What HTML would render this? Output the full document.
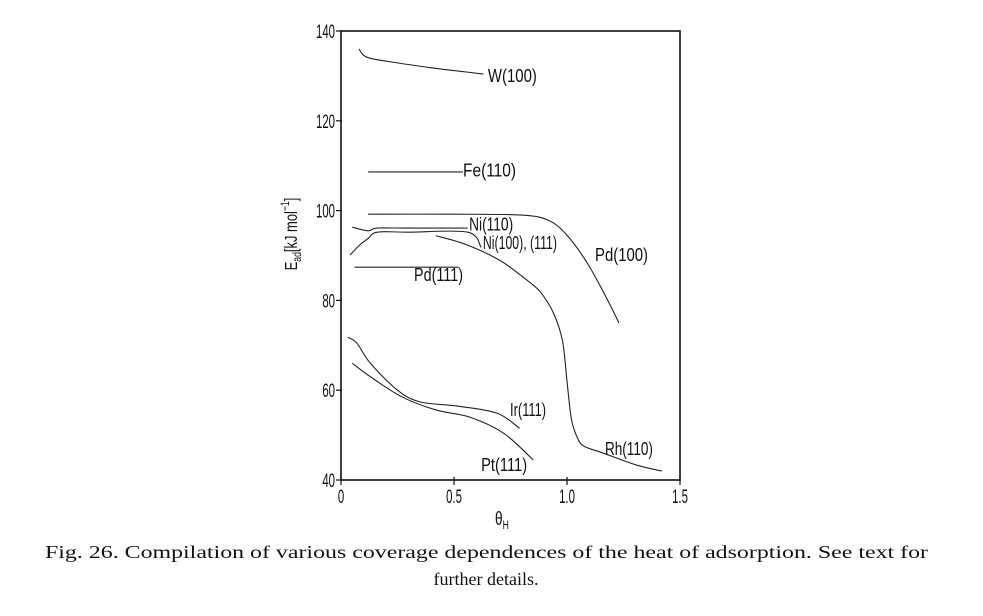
<!DOCTYPE html>
<html><head><meta charset="utf-8"><style>
html,body{margin:0;padding:0;background:#fff;}
svg{display:block;}
text{fill:#111;}
</style></head><body>
<svg id="chart" width="983" height="616" viewBox="0 0 983 616" xmlns="http://www.w3.org/2000/svg">
<g id="axes"></g>
<g id="series"></g>
<g id="labels"></g>
<text transform="translate(297,234) rotate(-90) scale(0.72,1)" text-anchor="middle" font-family="Liberation Sans, sans-serif" font-size="18">E<tspan font-size="12" dy="4">ad</tspan><tspan dy="-4">[kJ mol</tspan><tspan font-size="12" dy="-8">−1</tspan><tspan dy="8">]</tspan></text>
<text transform="translate(495,525) scale(0.72,1)" font-family="Liberation Sans, sans-serif" font-size="19">θ<tspan font-size="12" dy="4">H</tspan></text>
<text x="45" y="558" textLength="883" lengthAdjust="spacingAndGlyphs" font-family="Liberation Serif, serif" font-size="18">Fig. 26. Compilation of various coverage dependences of the heat of adsorption. See text for</text>
<text x="486" y="585" text-anchor="middle" font-family="Liberation Serif, serif" font-size="18">further details.</text>
</svg>
<script>
const xTicks=[0,0.5,1.0,1.5];
const xTickLabels=["0","0.5","1.0","1.5"];
const yTicks=[40,60,80,100,120,140];
const yTickLabels=["40","60","80","100","120","140"];
const seriesNames=["W(100)","Fe(110)","Pd(100)","Ni(110)","Ni(100),(111)","Pd(111)","Rh(110)","Ir(111)","Pt(111)"];
const w100X=[0.08,0.10,0.14,0.25,0.40,0.55,0.63];
const w100Y=[136,134.6,133.8,132.9,131.8,130.9,130.4];
const fe110X=[0.12,0.54];
const fe110Y=[108.6,108.6];
const pd100X=[0.12,0.50,0.80,0.92,1.00,1.09,1.17,1.23];
const pd100Y=[99.2,99.2,99.0,97.8,94.5,88.3,81,75];
const ni110X=[0.05,0.12,0.16,0.30,0.56];
const ni110Y=[96.3,95.5,96.1,96.1,96.1];
const ni100X=[0.04,0.08,0.12,0.16,0.30,0.56,0.62];
const ni100Y=[90.1,92.2,93.8,95.2,95.2,95.2,91.8];
const pd111X=[0.06,0.52];
const pd111Y=[87.4,87.4];
const rh110X=[0.42,0.55,0.70,0.81,0.88,0.94,0.98,1.00,1.02,1.05,1.08,1.16,1.31,1.42];
const rh110Y=[94.4,92.5,89,85,82,77.2,71,62,53.4,49,47.4,46,43.3,42];
const ir111X=[0.03,0.07,0.13,0.25,0.35,0.51,0.69,0.79];
const ir111Y=[71.8,70.5,66,60,57.4,56.5,54.9,51.5];
const pt111X=[0.05,0.13,0.27,0.42,0.57,0.72,0.85];
const pt111Y=[66,63,58.5,55.6,54,50.4,44.5];
const labelText=["W(100)","Fe(110)","Ni(110)","Ni(100), (111)","Pd(100)","Pd(111)","Ir(111)","Rh(110)","Pt(111)"];
const labelTheta=[0.65,0.54,0.567,0.628,1.124,0.323,0.748,1.168,0.62];
const labelE=[128.6,107.6,95.6,91.4,88.8,84.3,54.2,45.6,42];
const labelW=[49,53,44,74,53,49,36,48,46];

const NS="http://www.w3.org/2000/svg";
const X0=341,X1=680,Y0=480,Y1=31;
function sx(v){return X0+(v-0)/1.5*(X1-X0);}
function sy(v){return Y0-(v-40)/100*(Y0-Y1);}
function mk(tag,attrs,parent){const e=document.createElementNS(NS,tag);for(const k in attrs)e.setAttribute(k,attrs[k]);parent.appendChild(e);return e;}
const axes=document.getElementById('axes');
const frame=mk('rect',{x:X0,y:Y1,width:X1-X0,height:Y0-Y1,fill:'none',stroke:'#111','stroke-width':1.6},axes);


xTicks.forEach((t,i)=>{
  const l=mk('line',{x1:sx(t),x2:sx(t),y1:Y0-3,y2:Y0+5,stroke:'#111','stroke-width':1.2},axes);
  
  
  const tx=mk('text',{transform:`translate(${sx(t)},503) scale(0.6,1)`,'text-anchor':'middle','font-family':'Liberation Sans, sans-serif','font-size':19},axes);
  tx.textContent=xTickLabels[i];
  
  
});
yTicks.forEach((t,i)=>{
  const l=mk('line',{x1:X0-5,x2:X0+1,y1:sy(t),y2:sy(t),stroke:'#111','stroke-width':1.2},axes);
  
  
  const tx=mk('text',{transform:`translate(${X0-6},${sy(t)+7}) scale(0.6,1)`,'text-anchor':'end','font-family':'Liberation Sans, sans-serif','font-size':19},axes);
  tx.textContent=yTickLabels[i];
  
  
});
const seriesData=[[w100X,w100Y],[fe110X,fe110Y],[pd100X,pd100Y],[ni110X,ni110Y],[ni100X,ni100Y],[pd111X,pd111Y],[rh110X,rh110Y],[ir111X,ir111Y],[pt111X,pt111Y]];
const sg=document.getElementById('series');
seriesData.forEach((s,k)=>{
  const pts=s[0].map((x,i)=>[sx(x),sy(s[1][i])]);
  let d='M'+pts[0][0]+','+pts[0][1];
  for(let i=1;i<pts.length;i++){
    const p0=pts[Math.max(0,i-2)],p1=pts[i-1],p2=pts[i],p3=pts[Math.min(pts.length-1,i+1)];
    const c1x=p1[0]+(p2[0]-p0[0])/6,c1y=p1[1]+(p2[1]-p0[1])/6;
    const c2x=p2[0]-(p3[0]-p1[0])/6,c2y=p2[1]-(p3[1]-p1[1])/6;
    d+=` C${c1x},${c1y} ${c2x},${c2y} ${p2[0]},${p2[1]}`;
  }
  const p=mk('path',{d:d,fill:'none',stroke:'#222','stroke-width':1.1},sg);
  
  
});
const lg=document.getElementById('labels');
labelText.forEach((t,i)=>{
  const tx=mk('text',{x:sx(labelTheta[i]),y:sy(labelE[i]),textLength:labelW[i],lengthAdjust:'spacingAndGlyphs','font-family':'Liberation Sans, sans-serif','font-size':18},lg);
  tx.textContent=t;
  
  
});
</script>
</body></html>
